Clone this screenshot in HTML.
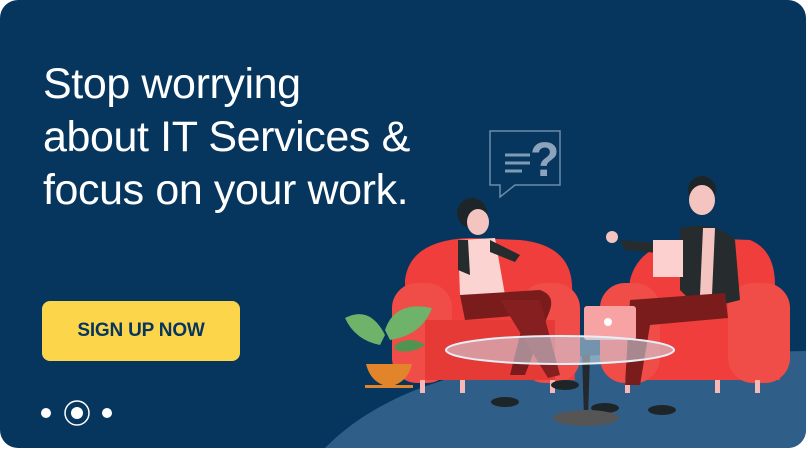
<!DOCTYPE html>
<html><head><meta charset="utf-8"><style>
html,body{margin:0;padding:0;background:#fff;width:808px;height:450px;overflow:hidden;}
.wrap{position:relative;width:808px;height:450px;overflow:hidden;background:#fff;}
.card{position:absolute;left:0;top:0;width:806px;height:448px;background:#06365e;border-radius:18px;overflow:hidden;}
.h{position:absolute;left:43px;top:58px;color:#fff;font-family:"Liberation Sans",sans-serif;font-size:43px;line-height:53px;letter-spacing:-0.4px;margin:0;font-weight:normal;white-space:nowrap;}
.btn{position:absolute;left:42px;top:301px;width:198px;height:60px;background:#fdd54a;border-radius:8px;color:#06365e;font-family:"Liberation Sans",sans-serif;font-weight:bold;font-size:19px;line-height:60px;text-align:center;letter-spacing:-0.2px;}
svg{position:absolute;left:0;top:0;display:block;}
</style></head><body><div class="wrap"><div class="card">
<svg width="806" height="448" viewBox="0 0 806 448">
<path d="M325 448 C380 392 470 362 600 355 L806 351 V448 Z" fill="#2f5f88"/>
<!-- speech bubble -->
<path d="M490 131 H560 V185 H515 L500 197 V185 H490 Z" fill="none" stroke="#6f8ca8" stroke-width="1.5"/>
<g stroke="#7f9ab5" stroke-width="3"><line x1="505" y1="155" x2="530" y2="155"/><line x1="505" y1="163" x2="530" y2="163"/><line x1="505" y1="171" x2="522" y2="171"/></g>
<text x="530" y="176" font-family="Liberation Sans" font-size="48" font-weight="bold" fill="#8ca3bb">?</text>
<!-- left chair -->
<path d="M405 280 Q410 240 470 238 L520 240 Q570 245 572 285 L575 380 L405 380 Z" fill="#ef3e3b"/>
<rect x="392" y="283" width="60" height="100" rx="25" fill="#f04c48"/>
<rect x="520" y="283" width="60" height="100" rx="25" fill="#f04c48"/>
<rect x="425" y="320" width="130" height="60" fill="#e63a37"/>
<g fill="#f8b8b8"><rect x="420" y="380" width="5" height="13"/><rect x="460" y="380" width="5" height="13"/><rect x="550" y="380" width="5" height="13"/></g>
<!-- right chair -->
<path d="M630 280 Q640 240 700 238 L750 240 Q775 250 775 285 L780 380 L620 380 Z" fill="#ef3e3b"/>
<rect x="600" y="283" width="60" height="100" rx="25" fill="#f04c48"/>
<rect x="728" y="283" width="62" height="100" rx="25" fill="#f04c48"/>
<g fill="#f8b8b8"><rect x="625" y="380" width="5" height="13"/><rect x="715" y="380" width="5" height="13"/><rect x="755" y="380" width="5" height="13"/></g>
<!-- woman -->
<circle cx="472" cy="213" r="15" fill="#1e2528"/>
<ellipse cx="478" cy="222" rx="11" ry="13" fill="#f3c4c0"/>
<path d="M458 240 L495 238 L505 295 L460 295 Z" fill="#fbd3d0"/>
<path d="M458 240 L468 240 L470 275 L458 270 Z" fill="#262b2e"/>
<path d="M490 240 L520 255 L515 262 L490 252Z" fill="#262b2e"/>
<path d="M460 295 L540 290 Q555 295 550 310 L525 375 L510 375 L525 315 L465 320 Z" fill="#7b1c1c"/>
<path d="M500 300 L540 300 L560 375 L548 378 Z" fill="#861f1f"/>
<ellipse cx="505" cy="402" rx="14" ry="5" fill="#1e2528"/>
<ellipse cx="565" cy="385" rx="14" ry="5" fill="#1e2528"/>
<!-- man -->
<circle cx="702" cy="190" r="14" fill="#1e2528"/>
<ellipse cx="702" cy="200" rx="13" ry="15" fill="#f3c4c0"/>
<path d="M680 228 Q715 220 735 240 L740 300 L700 310 L680 290 Z" fill="#262b2e"/>
<path d="M703 228 L715 228 L712 295 L700 295 Z" fill="#f3c4c0"/>
<path d="M620 240 L680 245 L680 255 L625 250Z" fill="#262b2e"/>
<circle cx="612" cy="237" r="6" fill="#f3c4c0"/>
<rect x="653" y="240" width="30" height="37" fill="#fbd0cf"/>
<path d="M630 300 L725 293 L728 318 L650 325 L640 385 L625 385 Z" fill="#7b1c1c"/>
<ellipse cx="605" cy="408" rx="14" ry="5" fill="#1e2528"/>
<ellipse cx="662" cy="410" rx="14" ry="5" fill="#1e2528"/>
<!-- laptop -->
<rect x="584" y="306" width="52" height="34" rx="3" fill="#f7a3a3"/>
<circle cx="608" cy="322" r="4" fill="#fff"/>
<!-- table -->
<path d="M582 355 L590 355 L588 418 L584 418 Z" fill="#23292c"/>
<ellipse cx="586" cy="418" rx="33" ry="8" fill="#555"/>
<ellipse cx="560" cy="350" rx="114" ry="14" fill="#cfe0ee" fill-opacity="0.55" stroke="#e8eef5" stroke-width="2"/>
<!-- plant -->
<path d="M345 318 Q370 305 385 335 L380 345 Q355 340 345 318Z" fill="#6fb36a"/>
<path d="M385 330 Q395 300 432 308 Q422 335 390 340Z" fill="#6fb36a"/>
<path d="M395 345 Q410 335 425 345 Q410 355 395 350Z" fill="#4f9450"/>
<path d="M366 364 H412 Q408 380 395 385 H383 Q370 380 366 364Z" fill="#e2842a"/>
<rect x="365" y="385" width="48" height="3" fill="#e2842a"/>
<!-- dots -->
<circle cx="46" cy="413" r="5" fill="#fff"/>
<circle cx="77" cy="413" r="6" fill="#fff"/>
<circle cx="77" cy="413" r="12" fill="none" stroke="#fff" stroke-width="1.5"/>
<circle cx="107" cy="413" r="5" fill="#fff"/>
</svg>
<div class="h">Stop worrying<br>about IT Services &amp;<br>focus on your work.</div>
<div class="btn">SIGN UP NOW</div>
</div></div></body></html>
